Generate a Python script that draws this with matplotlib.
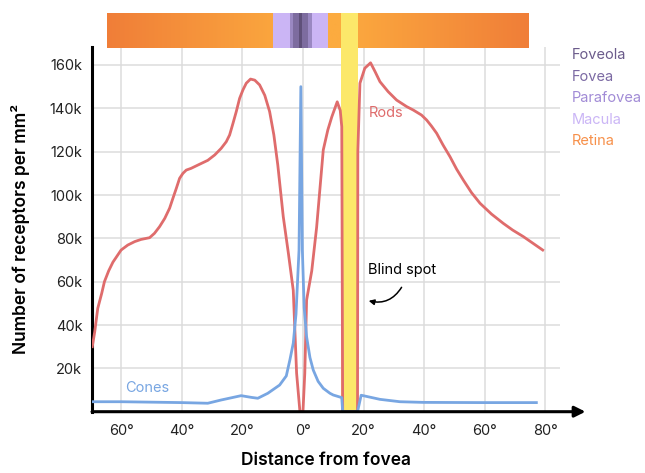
import numpy as np
import matplotlib
matplotlib.use("Agg")
import matplotlib.pyplot as plt
from matplotlib.colors import LinearSegmentedColormap
from matplotlib.patches import FancyArrowPatch

plt.rcParams['font.family'] = ['Inter', 'DejaVu Sans']

# -----------------------------------------------------------------------------
# Data (x in degrees from fovea, y in thousands / mm^2)
# -----------------------------------------------------------------------------
rods_x = [-69.5, -68.7, -67.7, -66.4, -65.5, -64.1, -62.7, -60.0, -57.8, -55.5,
          -53.4, -50.6, -49.0, -47.3, -45.6, -44.0, -42.9, -41.8, -40.7, -39.6,
          -38.5, -36.9, -34.1, -31.4, -29.1, -27.0, -25.3, -24.2, -23.1, -22.0,
          -20.9, -19.8, -18.7, -17.3, -15.9, -14.3, -12.6, -11.0, -9.6, -8.3,
          -6.5, -4.8, -3.2, -2.1, -1.0,
          0.0, 0.6, 1.2, 2.9, 4.5, 6.7, 8.2, 9.5, 11.3, 12.3,
          12.8, 13.1, 18.0, 18.1, 18.8, 20.4, 22.3, 23.8, 25.4, 28.1,
          30.9, 34.2, 36.4, 39.1, 40.8, 42.4, 44.1, 46.2, 48.5, 50.7,
          52.9, 55.6, 58.4, 62.2, 66.1, 69.2, 72.7, 79.1]
rods_y = [30, 36.9, 47.7, 54.6, 60, 65, 69, 74.6, 76.9, 78.5,
          79.5, 80.3, 82.3, 85.4, 89.2, 93.9, 98.5, 103, 107.7, 110,
          111.5, 112.3, 114.2, 116, 118.5, 121.5, 124.6, 127.7, 133, 138.5,
          144.6, 148.5, 151.6, 153.5, 153, 150.8, 146, 138.5, 127.7, 113.8,
          90, 73, 56, 17.8, 0,
          0, 17.8, 51.5, 65, 85, 120.8, 130, 136, 143, 139,
          131.5, 0, 0, 120, 151.6, 158.5, 161, 156.9, 152.3, 147.7,
          143.8, 140.8, 139.2, 136.9, 134.6, 131.8, 128.5, 123.1, 117.7, 111.9,
          106.9, 101.1, 96.2, 91.2, 86.9, 83.8, 80.8, 74.6]

cones_x = [-69.5, -60.0, -40.0, -31.4, -27.0, -20.4, -17.0, -14.9, -11.6, -7.7,
           -5.5, -4.3, -3.2, -2.3, -1.3, -0.7, -0.2, 0.4, 1.2, 2.3,
           3.4, 5.0, 6.7, 8.9, 10.0, 12.8, 13.1, 18.0, 19.2, 25.4,
           32.0, 39.7, 59.5, 77.0]
cones_y = [4.6, 4.6, 4.2, 3.9, 5.4, 7.4, 6.6, 6.2, 8.5, 12.3,
           16.5, 24, 31.6, 45, 74.6, 150, 74.6, 48, 34.6, 25,
           19.2, 14, 10.8, 8.5, 7.7, 6.5, 0, 0, 7.6, 5.7,
           4.6, 4.3, 4.2, 4.2]

x_ticks = [-60, -40, -20, 0, 20, 40, 60, 80]
x_tick_labels = ['60°', '40°', '20°', '0°', '20°', '40°', '60°', '80°']
y_ticks = [20, 40, 60, 80, 100, 120, 140, 160]
y_tick_labels = ['20k', '40k', '60k', '80k', '100k', '120k', '140k', '160k']

# eye zones shown in the top strip (degrees)
retina_span = (-64.7, 74.3)
blind_spot = (12.6, 18.2)
zone_names = ['Macula', 'Parafovea', 'Fovea', 'Foveola']
zone_left = [-10.0, -4.3, -3.2, -1.3]
zone_right = [8.3, 3.0, 1.8, -0.3]
zone_colors = ['#cbb5f5', '#9a88c2', '#7d6c9f', '#5f5079']

legend_names = ['Foveola', 'Fovea', 'Parafovea', 'Macula', 'Retina']
legend_colors = ['#6b5b8b', '#7b69a3', '#a18bd6', '#cbb6f6', '#f7904a']

# -----------------------------------------------------------------------------
# Figure
# -----------------------------------------------------------------------------
W, H = 645, 473
fig = plt.figure(figsize=(W / 100, H / 100), dpi=100)

ax_l, ax_r, ax_t, ax_b = 92, 560, 47, 411.7
ax = fig.add_axes([ax_l / W, 1 - ax_b / H, (ax_r - ax_l) / W, (ax_b - ax_t) / H])
xlim = (-69.6, 84.8)
ax.set_xlim(*xlim)
ax.set_ylim(0, 168.3)

ax.grid(True, color='#dcdcdc', lw=1.1)
ax.set_axisbelow(True)
ax.axvspan(*blind_spot, color='#fce86a', zorder=1, lw=0)

ax.plot(rods_x, rods_y, color='#df6c6c', lw=2, zorder=3)
ax.plot(cones_x, cones_y, color='#78a6e2', lw=2, zorder=4)

ax.set_xticks(x_ticks)
ax.set_xticklabels(x_tick_labels)
ax.set_yticks(y_ticks)
ax.set_yticklabels(y_tick_labels)
ax.tick_params(length=0, labelsize=10.5, labelcolor='#222222', pad=7)
ax.tick_params(axis='x', pad=9)

for s in ['top', 'right', 'bottom']:
    ax.spines[s].set_visible(False)
ax.spines['left'].set_linewidth(2.2)
ax.spines['left'].set_color('black')

# x axis with arrow
ax.annotate('', xy=(93.2, 0), xytext=(xlim[0], 0),
            arrowprops=dict(arrowstyle='-|>', color='black', lw=2.2,
                            mutation_scale=16, shrinkA=0, shrinkB=0),
            annotation_clip=False, zorder=6)

ax.set_xlabel('Distance from fovea', fontsize=12.5, fontweight='semibold', labelpad=10)
ax.set_ylabel('Number of receptors per mm²', fontsize=12.5, fontweight='semibold', labelpad=14)

ax.text(21.8, 138, 'Rods', color='#df6c6c', fontsize=10.5, va='center')
ax.text(-58.7, 11, 'Cones', color='#78a6e2', fontsize=10.5, va='center')
ax.text(21.5, 65.5, 'Blind spot', color='black', fontsize=10.5, va='center')
arr = FancyArrowPatch((33, 58.5), (20.8, 51.5), transform=ax.transData,
                      connectionstyle='arc3,rad=-0.4', arrowstyle='-|>',
                      mutation_scale=8, color='black', lw=1.1, zorder=6)
ax.add_patch(arr)

# top strip
bar_t, bar_b = 13, 47.7
bx = fig.add_axes([ax_l / W, 1 - bar_b / H, (ax_r - ax_l) / W, (bar_b - bar_t) / H])
bx.set_xlim(*xlim)
bx.set_ylim(0, 1)
bx.axis('off')
cmap = LinearSegmentedColormap.from_list('ret', ['#fcab3f', '#f07e38'], N=256)
grad = np.abs(np.linspace(-1, 1, 400)).reshape(1, -1)
bx.imshow(grad, cmap=cmap, vmin=0.1, vmax=1, aspect='auto',
          extent=(retina_span[0], retina_span[1], 0, 1), zorder=1)
for l, r, c in zip(zone_left, zone_right, zone_colors):
    bx.axvspan(l, r, color=c, lw=0, zorder=2)
bx.axvspan(*blind_spot, color='#fce86a', lw=0, zorder=3)

# zone legend
for i, (n, c) in enumerate(zip(legend_names, legend_colors)):
    fig.text(572 / W, 1 - (55 + i * 21.6) / H, n, color=c, fontsize=10.5, va='center')

fig.savefig('out.png', dpi=100)
